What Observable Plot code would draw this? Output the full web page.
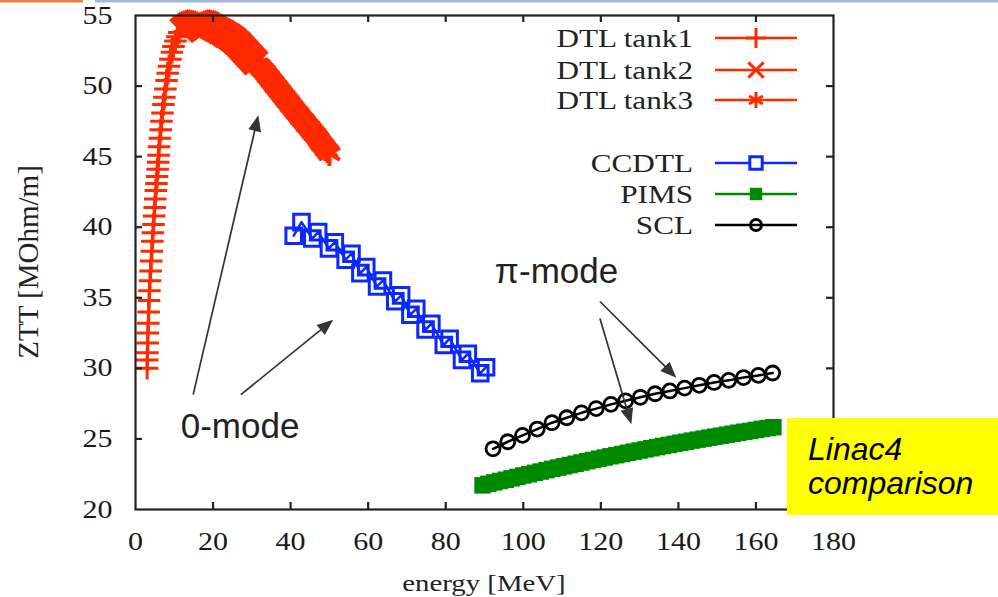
<!DOCTYPE html>
<html><head><meta charset="utf-8">
<script src="https://cdn.jsdelivr.net/npm/d3@7"></script>
<script src="https://cdn.jsdelivr.net/npm/@observablehq/plot@0.6"></script>
<style>
html,body{margin:0;padding:0;background:#fff;}
#wrap{position:relative;width:998px;height:597px;overflow:hidden;background:#fff;}
#wrap svg{position:absolute;left:0;top:0;}
</style></head><body><div id="wrap"></div>
<script>
// ---------- data (energy [MeV], ZTT [MOhm/m]) ----------
const tank1E = [3.0,3.05,3.1,3.15,3.2,3.3,3.4,3.5,3.6,3.75,3.9,4.05,4.2,4.35,4.5,4.65,4.8,4.95,5.1,5.25,5.4,5.55,5.7,5.85,5.95,6.1,6.3,6.5,6.7,6.95,7.2,7.45,7.7,8.0,8.3,8.65,9.0,9.4,9.8,10.3,10.8,11.3];
const tank1Z = [30.0,30.6,31.1,31.8,32.5,33.2,34.0,34.8,35.5,36.2,36.9,37.6,38.3,39.0,39.6,40.2,40.8,41.4,42.0,42.6,43.1,43.6,44.1,44.6,45.1,45.7,46.3,46.9,47.5,48.1,48.7,49.2,49.8,50.4,50.9,51.4,51.9,52.4,52.8,53.2,53.5,53.8];

const tank2E = [12.0,12.5,13.0,13.5,14.0,14.5,15.0,15.5,16.0,16.5,17.0,17.5,18.0,18.5,19.0,19.5,20.0,20.5,21.0,21.5,22.0,22.5,23.0,23.5,24.0,24.5,25.0,25.5,26.0,26.5,27.0,27.5,28.0,28.5,29.0,29.5,30.0,30.5,31.0];
const tank2Z = [53.95,54.05,54.15,54.25,54.35,54.4,54.45,54.5,54.55,54.55,54.5,54.5,54.45,54.4,54.3,54.25,54.15,54.1,54.0,53.95,53.85,53.8,53.7,53.6,53.55,53.45,53.35,53.25,53.1,53.0,52.85,52.7,52.55,52.4,52.25,52.1,51.95,51.8,51.65];

const tank3E = [31.5,32.0,32.5,33.0,33.5,34.0,34.5,35.0,35.5,36.0,36.5,37.0,37.5,38.0,38.5,39.0,39.5,40.0,40.5,41.0,41.5,42.0,42.5,43.0,43.5,44.0,44.5,45.0,45.5,46.0,46.5,47.0,47.5,48.0,48.5,49.0,49.5,50.0];
const tank3Z = [51.5,51.4,51.25,51.1,50.95,50.75,50.6,50.4,50.25,50.05,49.9,49.7,49.55,49.35,49.2,49.0,48.85,48.65,48.5,48.3,48.15,48.0,47.8,47.65,47.5,47.3,47.15,47.0,46.8,46.65,46.5,46.3,46.1,45.9,45.75,45.55,45.4,45.2];

const ccdtlE = [40.8,42.8,45.6,47.1,49.9,51.4,54.2,55.7,58.0,59.5,62.3,63.8,67.0,68.5,70.9,72.4,74.8,76.3,79.5,81.0,84.2,85.7,88.9,90.4];
const ccdtlZ = [39.4,40.36,39.2,39.65,38.5,38.94,37.7,38.12,36.75,37.17,35.8,36.23,34.75,35.17,33.8,34.22,32.75,33.16,31.65,32.1,30.6,31.03,29.65,30.08];

const pimsE = [89.5,91,92.5,94,95.5,97,98.5,100,101.5,103,104.5,106,107.5,109,110.5,112,113.5,115,116.5,118,119.5,121,122.5,124,125.5,127,128.5,130,131.5,133,134.5,136,137.5,139,140.5,142,143.5,145,146.5,148,149.5,151,152.5,154,155.5,157,158.5,160,161.5,163,164.5];
const pimsZ = [21.71,21.82,21.92,22.02,22.11,22.21,22.31,22.41,22.50,22.60,22.69,22.79,22.88,22.97,23.06,23.15,23.24,23.33,23.42,23.51,23.60,23.68,23.77,23.85,23.93,24.02,24.10,24.18,24.26,24.34,24.42,24.50,24.57,24.65,24.73,24.80,24.88,24.95,25.02,25.09,25.16,25.23,25.30,25.37,25.44,25.51,25.57,25.64,25.71,25.77,25.83];

const sclE = [92.2,96.0,99.8,103.6,107.4,111.2,115.0,118.8,122.6,126.4,130.2,134.0,137.8,141.6,145.4,149.2,153.0,156.8,160.6,164.3];
const sclZ = [24.3,24.8,25.25,25.7,26.15,26.5,26.85,27.15,27.45,27.7,27.95,28.2,28.4,28.6,28.8,29.0,29.15,29.35,29.5,29.67];

const xTicks = [0,20,40,60,80,100,120,140,160,180];
const yTicks = [20,25,30,35,40,45,50,55];

const legendLabels = ["DTL tank1","DTL tank2","DTL tank3","CCDTL","PIMS","SCL"];

// annotations (data coordinates)
const arrowFromE = [15.0, 27.3, 119.9, 119.9];
const arrowFromZ = [28.1, 28.1, 34.7, 33.5];
const arrowToE   = [31.8, 51.1, 139.6, 128.0];
const arrowToZ   = [47.9, 33.4, 29.3, 26.0];
const modeText = ["0-mode", "\u03c0-mode"];
const modeE = [11.8, 92.8];
const modeZ = [25.0, 36.0];
const boxLines = ["Linac4", "comparison"];

// ---------- chart ----------
const W = 998, H = 597, mL = 135, mR = 165, mT = 15, mB = 88;
const fw = W - mL - mR, fh = H - mT - mB;
const RED = "#ff2a00", BLUE = "#0a28ff", GREEN = "#008a00", BLACK = "#000";
const SERIF = "'Liberation Serif','Times New Roman',serif";
const SANS = "'Liberation Sans',Arial,sans-serif";
const STRETCH = 1.2;

const rows = (E, Z) => E.map((e, i) => ({e, z: Z[i]}));
const t1 = rows(tank1E, tank1Z), t2 = rows(tank2E, tank2Z), t3 = rows(tank3E, tank3Z);
const cc = rows(ccdtlE, ccdtlZ), pi = rows(pimsE, pimsZ), sc = rows(sclE, sclZ);

const series = [
  {data: t1, color: RED, symbol: "plus", r: 7.3, fill: "none", sw: 3},
  {data: t2, color: RED, symbol: "times", r: 10.5, fill: "none", sw: 4},
  {data: t3, color: RED, symbol: "asterisk", r: 11.5, fill: "none", sw: 4},
  {data: cc, color: BLUE, symbol: "square", r: 8.8, fill: "none", sw: 3},
  {data: pi, color: GREEN, symbol: "square", r: 9.3, fill: GREEN, sw: 0},
  {data: sc, color: BLACK, symbol: "circle", r: 7.0, fill: "none", sw: 2.8}
];

const marks = [];
for (const s of series) {
  marks.push(Plot.line(s.data, {x: "e", y: "z", stroke: s.color, strokeWidth: 2.5}));
  marks.push(Plot.dot(s.data, {x: "e", y: "z", symbol: s.symbol, r: s.r, stroke: s.fill === "none" ? s.color : "none", fill: s.fill, strokeWidth: s.sw}));
}
marks.push(
  Plot.frame({stroke: "#222", strokeWidth: 2.2}),
  Plot.ruleX(xTicks.slice(1, -1), {x: d => d, insetTop: fh - 7, stroke: "#222", strokeWidth: 2.2}),
  Plot.ruleX(xTicks.slice(1, -1), {x: d => d, insetBottom: fh - 7, stroke: "#222", strokeWidth: 2.2}),
  Plot.ruleY(yTicks.slice(1, -1), {y: d => d, insetRight: fw - 7, stroke: "#222", strokeWidth: 2.2}),
  Plot.ruleY(yTicks.slice(1, -1), {y: d => d, insetLeft: fw - 7, stroke: "#222", strokeWidth: 2.2}),
  Plot.axisX({ticks: xTicks, tickSize: 0, tickPadding: 23, label: null, fontSize: 25, fill: "#1a1a1a"}),
  Plot.axisY({ticks: yTicks, tickSize: 0, tickPadding: 23, label: null, fontSize: 25, fill: "#1a1a1a"})
);

const plot = Plot.plot({
  width: W, height: H,
  marginLeft: mL, marginRight: mR, marginTop: mT, marginBottom: mB,
  style: {fontFamily: SERIF, fontSize: "25px", color: "#222", background: "transparent", overflow: "visible"},
  x: {domain: [0, 180]},
  y: {domain: [20, 55]},
  marks
});
const wrap = document.getElementById("wrap");
wrap.appendChild(plot);

// horizontal stretch of the gnuplot-style serif labels
plot.querySelectorAll("text").forEach(t => {
  const tr = plot.createSVGTransform();
  tr.setScale(STRETCH, 1);
  const x = +t.getAttribute("x") || 0;
  if (x !== 0) {
    t.setAttribute("transform", `translate(${x},0) scale(${STRETCH},1) translate(${-x},0)`);
  } else {
    t.transform.baseVal.appendItem(tr);
  }
});

// ---------- overlay: legend, titles, annotations ----------
const sx = plot.scale("x"), sy = plot.scale("y");
const X = v => sx.apply(v), Y = v => sy.apply(v);

const ov = d3.select(wrap).append("svg").attr("width", W).attr("height", H)
  .style("pointer-events", "none");

// slide decorations at top
ov.append("rect").attr("x", 0).attr("y", 0).attr("width", 83).attr("height", 2.5).attr("fill", "#e0803f");
ov.append("rect").attr("x", 95).attr("y", 0).attr("width", W - 95).attr("height", 2.5).attr("fill", "#9fbad6");

// axis titles
ov.append("text").attr("transform", `translate(${mL + fw / 2},591) scale(${STRETCH},1)`)
  .attr("text-anchor", "middle").attr("font-family", SERIF).attr("font-size", 24).attr("fill", "#222")
  .text("energy [MeV]");
ov.append("text").attr("transform", `translate(28,${mT + fh / 2}) rotate(-90)`)
  .attr("text-anchor", "middle").attr("dy", "0.35em").attr("font-family", SERIF).attr("font-size", 29).attr("fill", "#222")
  .text("ZTT [MOhm/m]");

// legend
const legY = [38, 70, 100, 163, 194, 225];
const symMap = {plus: d3.symbolPlus, times: d3.symbolTimes, asterisk: d3.symbolAsterisk, square: d3.symbolSquare, circle: d3.symbolCircle};
const legR = [6.5, 7, 7.5, 7, 7, 5.5];
series.forEach((s, i) => {
  const y = legY[i];
  ov.append("text").attr("transform", `translate(693,${y}) scale(${STRETCH},1)`)
    .attr("text-anchor", "end").attr("dy", "0.33em").attr("font-family", SERIF).attr("font-size", 26).attr("fill", "#222")
    .text(legendLabels[i]);
  ov.append("line").attr("x1", 715).attr("x2", 797).attr("y1", y).attr("y2", y)
    .attr("stroke", s.color).attr("stroke-width", 2.5);
  const rr = legR[i];
  ov.append("path").attr("transform", `translate(756,${y})`)
    .attr("d", d3.symbol(symMap[s.symbol], Math.PI * rr * rr)())
    .attr("fill", s.fill === "none" ? (s.symbol === "square" ? "#fff" : "none") : s.fill)
    .attr("stroke", s.fill === "none" ? s.color : "none").attr("stroke-width", 3);
});

// arrows
const AC = "#333";
arrowFromE.forEach((e0, i) => {
  const x1 = X(e0), y1 = Y(arrowFromZ[i]), x2 = X(arrowToE[i]), y2 = Y(arrowToZ[i]);
  const dx = x2 - x1, dy = y2 - y1, L = Math.hypot(dx, dy), ux = dx / L, uy = dy / L;
  const hl = 16, hw = 6.5;
  ov.append("line").attr("x1", x1).attr("y1", y1).attr("x2", x2 - ux * hl * 0.8).attr("y2", y2 - uy * hl * 0.8)
    .attr("stroke", AC).attr("stroke-width", 1.7);
  const bx = x2 - ux * hl, by = y2 - uy * hl;
  ov.append("path").attr("d", `M${x2},${y2}L${bx - uy * hw},${by + ux * hw}L${bx + uy * hw},${by - ux * hw}Z`)
    .attr("fill", AC);
});

// mode labels
modeText.forEach((t, i) => {
  ov.append("text").attr("x", X(modeE[i])).attr("y", Y(modeZ[i]))
    .attr("font-family", SANS).attr("font-size", 35).attr("fill", "#222").text(t);
});

// yellow box
ov.append("rect").attr("x", 787).attr("y", 418).attr("width", W - 787).attr("height", 97).attr("fill", "#ffff00");
boxLines.forEach((t, i) => {
  ov.append("text").attr("x", 808).attr("y", 460 + i * 34)
    .attr("font-family", SANS).attr("font-style", "italic").attr("font-size", 32).attr("fill", "#000").text(t);
});
</script>
</body></html>
